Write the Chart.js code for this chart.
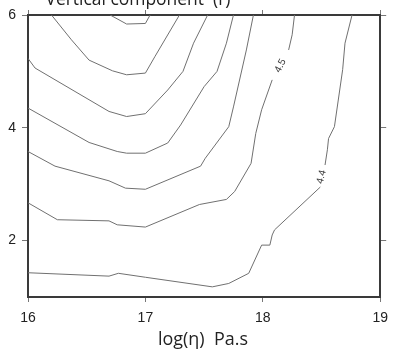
<!DOCTYPE html>
<html>
<head>
<meta charset="utf-8">
<script src="https://cdn.jsdelivr.net/npm/chart.js@4.4.0/dist/chart.umd.min.js"></script>
<style>
  html, body { margin: 0; padding: 0; background: #fff; }
</style>
</head>
<body>
<canvas id="contour-chart" width="396" height="349"></canvas>
<script>
// contour lines, [log(eta), value] pairs; null marks the gap left for a label
const contour1 = [[16.70, 6.00], [16.84, 5.84], [17.00, 5.85], [17.04, 6.00]];
const contour2 = [[16.20, 6.00], [16.37, 5.56], [16.52, 5.20], [16.72, 5.01], [16.84, 4.94],
  [17.00, 4.97], [17.08, 5.26], [17.29, 6.00]];
const contour3 = [[16.00, 5.23], [16.06, 5.06], [16.69, 4.29], [16.84, 4.20], [17.00, 4.25],
  [17.19, 4.67], [17.32, 5.00], [17.41, 5.50], [17.53, 6.00]];
const contour4 = [[16.00, 4.35], [16.52, 3.74], [16.76, 3.58], [16.84, 3.55], [17.00, 3.55],
  [17.19, 3.73], [17.30, 4.05], [17.50, 4.73], [17.61, 5.00], [17.69, 5.50], [17.75, 6.00]];
const contour5 = [[16.00, 3.58], [16.23, 3.32], [16.69, 3.06], [16.83, 2.93], [17.00, 2.91],
  [17.47, 3.32], [17.51, 3.46], [17.71, 4.02], [17.75, 4.37], [17.86, 5.38], [17.92, 6.00]];
const contour6 = [[16.00, 2.67], [16.25, 2.37], [16.69, 2.35], [16.76, 2.28], [17.00, 2.24],
  [17.46, 2.64], [17.69, 2.73], [17.76, 2.87], [17.90, 3.37], [17.94, 3.90], [17.99, 4.32],
  [18.08, 4.85], null, [18.22, 5.38], [18.25, 5.65], [18.27, 6.00]];
const contour7 = [[16.00, 1.43], [16.69, 1.37], [16.77, 1.42], [17.00, 1.35], [17.57, 1.18],
  [17.71, 1.24], [17.88, 1.42], [17.99, 1.92], [18.06, 1.92], [18.08, 2.10], [18.10, 2.19],
  [18.49, 2.95], null, [18.53, 3.34], [18.55, 3.61], [18.56, 3.81], [18.61, 4.02],
  [18.68, 5.03], [18.70, 5.50], [18.76, 6.00]];
const contours = [contour1, contour2, contour3, contour4, contour5, contour6, contour7];

const labelText = ["4.5", "4.4"];
const labelX = [18.15, 18.50];
const labelY = [5.10, 3.13];
const labelAngle = [-63, -76];

const xTicks = [16, 17, 18, 19];
const yTicks = [2, 4, 6];
const titleText = "Vertical component  (r)";
const xTitle = "log(\u03b7)  Pa.s";

const toPoints = (arr) => {
  const pts = [];
  arr.forEach((p, i) => {
    if (p === null) {
      pts.push({ x: (arr[i - 1][0] + arr[i + 1][0]) / 2, y: null });
    } else {
      pts.push({ x: p[0], y: p[1] });
    }
  });
  return pts;
};

// narrow humanist type: draw at size and squeeze to the wanted width
function squeezedText(ctx, text, cx, baseline, width) {
  const w = ctx.measureText(text).width;
  ctx.save();
  ctx.translate(cx, baseline);
  ctx.scale(Math.min(1, width / w), 1);
  ctx.fillText(text, 0, 0);
  ctx.restore();
}

const textPlugin = {
  id: "contourText",
  afterDatasetsDraw(chart) {
    const ctx = chart.ctx;
    const xs = chart.scales.x;
    const ys = chart.scales.y;
    ctx.save();
    ctx.fillStyle = "#333";
    ctx.font = '10px "Liberation Sans"';
    ctx.textAlign = "center";
    ctx.textBaseline = "middle";
    labelText.forEach((t, i) => {
      ctx.save();
      ctx.translate(xs.getPixelForValue(labelX[i]), ys.getPixelForValue(labelY[i]));
      ctx.rotate(labelAngle[i] * Math.PI / 180);
      ctx.fillText(t, 0, 0);
      ctx.restore();
    });
    ctx.fillStyle = "#222";
    ctx.textBaseline = "alphabetic";
    ctx.font = '19px "Open Sans"';
    squeezedText(ctx, titleText, 138, 5, 185);
    squeezedText(ctx, xTitle, 203, 345, 90);
    ctx.restore();
  },
};

const frame = { display: true, color: "#3a3a3a", width: 2 };
const tickFont = { family: "Liberation Sans", size: 14 };

const config = {
  type: "line",
  data: {
    datasets: contours.map((c) => ({
      data: toPoints(c),
      borderColor: "#707070",
      borderWidth: 1,
      pointRadius: 0,
      tension: 0,
      fill: false,
      spanGaps: false,
    })),
  },
  options: {
    responsive: false,
    animation: false,
    layout: { padding: 0 },
    plugins: {
      legend: { display: false },
      tooltip: { enabled: false },
    },
    scales: {
      x: {
        type: "linear",
        position: "bottom",
        min: 16,
        max: 19,
        afterBuildTicks: (s) => { s.ticks = xTicks.map((v) => ({ value: v })); },
        afterFit: (s) => { s.height = 52; },
        ticks: { color: "#222", font: tickFont, padding: 8, maxRotation: 0 },
        grid: { drawOnChartArea: false, tickLength: 5, color: "#777" },
        border: frame,
      },
      x2: {
        type: "linear",
        position: "top",
        min: 16,
        max: 19,
        afterBuildTicks: (s) => { s.ticks = xTicks.map((v) => ({ value: v })); },
        afterFit: (s) => { s.height = 15; },
        ticks: { display: false },
        grid: { drawOnChartArea: false, tickLength: 5, color: "#777" },
        border: frame,
      },
      y: {
        type: "linear",
        position: "left",
        min: 1,
        max: 6,
        afterBuildTicks: (s) => { s.ticks = yTicks.map((v) => ({ value: v })); },
        afterFit: (s) => { s.width = 28; },
        ticks: { color: "#222", font: tickFont, padding: 6 },
        grid: { drawOnChartArea: false, tickLength: 6, color: "#777" },
        border: frame,
      },
      y2: {
        type: "linear",
        position: "right",
        min: 1,
        max: 6,
        afterBuildTicks: (s) => { s.ticks = yTicks.map((v) => ({ value: v })); },
        afterFit: (s) => { s.width = 10; },
        ticks: { display: false },
        grid: { drawOnChartArea: false, tickLength: 6, color: "#777" },
        border: frame,
      },
    },
  },
  plugins: [textPlugin],
};

var ctx = document.getElementById("contour-chart").getContext("2d");
var contourChart = new Chart(ctx, config);
</script>
</body>
</html>
